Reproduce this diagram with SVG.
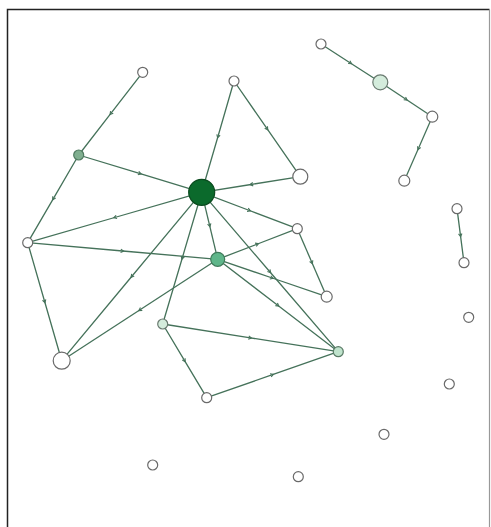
<svg xmlns="http://www.w3.org/2000/svg" width="491" height="527" viewBox="0 0 491 527">
<style>
.edge{fill:none;stroke:#45725a;stroke-width:1.3;marker-mid:url(#arr)}
.node{stroke:#6a6a6a;stroke-width:1.2;fill:#fff}
.hub{fill:#0b6a2c;stroke:#0a4a1e}
.mid{fill:#5fb68a;stroke:#3f7a5a}
.gg{fill:#7fae8f;stroke:#4f7a60}
.pale{fill:#d4ecdc;stroke:#6a7a70}
.paleg{fill:#bfe3cc;stroke:#5a7a66}
</style>
<defs>
<marker id="arr" markerUnits="userSpaceOnUse" markerWidth="5" markerHeight="5" refX="2.5" refY="2.5" orient="auto">
<path d="M0.5,0.8 L3.5,2.5 L0.5,4.2" fill="none" stroke="#45725a" stroke-width="1.1"/>
</marker>
</defs>
<rect x="0" y="0" width="491" height="527" fill="#fff"/>
<path d="M7.5,527 L7.5,9.5 L489.5,9.5" fill="none" stroke="#222" stroke-width="1.5"/>
<line x1="489.5" y1="9.5" x2="489.5" y2="527" stroke="#999" stroke-width="1.2"/>
<g id="connectors">
<polyline class="edge" points="142.7,72.3 110.7,113.7 78.7,155"/>
<polyline class="edge" points="78.7,155 140.2,173.7 201.7,192.3"/>
<polyline class="edge" points="78.7,155 53.2,198.9 27.7,242.7"/>
<polyline class="edge" points="234,81 217.9,136.7 201.7,192.3"/>
<polyline class="edge" points="234,81 267.2,128.9 300.3,176.7"/>
<polyline class="edge" points="300.3,176.7 251,184.5 201.7,192.3"/>
<polyline class="edge" points="201.7,192.3 114.7,217.5 27.7,242.7"/>
<polyline class="edge" points="201.7,192.3 249.5,210.5 297.3,228.7"/>
<polyline class="edge" points="201.7,192.3 209.7,225.8 217.7,259.3"/>
<polyline class="edge" points="201.7,192.3 182.2,258.2 162.7,324"/>
<polyline class="edge" points="201.7,192.3 131.7,276.5 61.7,360.7"/>
<polyline class="edge" points="201.7,192.3 270,272 338.3,351.7"/>
<polyline class="edge" points="27.7,242.7 122.7,251 217.7,259.3"/>
<polyline class="edge" points="27.7,242.7 44.7,301.7 61.7,360.7"/>
<polyline class="edge" points="217.7,259.3 257.5,244 297.3,228.7"/>
<polyline class="edge" points="217.7,259.3 272.2,278 326.7,296.7"/>
<polyline class="edge" points="217.7,259.3 278,305.5 338.3,351.7"/>
<polyline class="edge" points="217.7,259.3 139.7,310 61.7,360.7"/>
<polyline class="edge" points="297.3,228.7 312,262.7 326.7,296.7"/>
<polyline class="edge" points="162.7,324 250.5,337.9 338.3,351.7"/>
<polyline class="edge" points="162.7,324 184.7,360.9 206.7,397.7"/>
<polyline class="edge" points="206.7,397.7 272.5,374.7 338.3,351.7"/>
<polyline class="edge" points="321,44 350.7,63.2 380.3,82.3"/>
<polyline class="edge" points="380.3,82.3 406.3,99.5 432.3,116.7"/>
<polyline class="edge" points="432.3,116.7 418.3,148.7 404.3,180.7"/>
<polyline class="edge" points="457,208.7 460.5,235.7 464,262.7"/>
</g>
<g id="n-a"><circle class="node" cx="142.7" cy="72.3" r="5"/></g>
<g id="n-b"><circle class="node" cx="234" cy="81" r="5"/></g>
<g id="n-c"><circle class="node" cx="321" cy="44" r="5"/></g>
<g id="n-d"><circle class="node pale" cx="380.3" cy="82.3" r="7.5"/></g>
<g id="n-e"><circle class="node" cx="432.3" cy="116.7" r="5.5"/></g>
<g id="n-f"><circle class="node" cx="404.3" cy="180.7" r="5.5"/></g>
<g id="n-g"><circle class="node gg" cx="78.7" cy="155" r="5"/></g>
<g id="n-h"><circle class="node hub" cx="201.7" cy="192.3" r="13"/></g>
<g id="n-i"><circle class="node" cx="300.3" cy="176.7" r="7.5"/></g>
<g id="n-j"><circle class="node" cx="457" cy="208.7" r="5"/></g>
<g id="n-k"><circle class="node" cx="27.7" cy="242.7" r="5"/></g>
<g id="n-l"><circle class="node" cx="297.3" cy="228.7" r="5"/></g>
<g id="n-m"><circle class="node mid" cx="217.7" cy="259.3" r="7"/></g>
<g id="n-n"><circle class="node" cx="464" cy="262.7" r="5"/></g>
<g id="n-o"><circle class="node" cx="326.7" cy="296.7" r="5.5"/></g>
<g id="n-p"><circle class="node" cx="468.7" cy="317.3" r="5"/></g>
<g id="n-q"><circle class="node pale" cx="162.7" cy="324" r="5"/></g>
<g id="n-r"><circle class="node" cx="61.7" cy="360.7" r="8.5"/></g>
<g id="n-s"><circle class="node paleg" cx="338.3" cy="351.7" r="5"/></g>
<g id="n-t"><circle class="node" cx="449.3" cy="384" r="5"/></g>
<g id="n-u"><circle class="node" cx="206.7" cy="397.7" r="5"/></g>
<g id="n-v"><circle class="node" cx="384" cy="434.3" r="5"/></g>
<g id="n-w"><circle class="node" cx="152.7" cy="465" r="5"/></g>
<g id="n-x"><circle class="node" cx="298.3" cy="476.7" r="5"/></g>
</svg>
